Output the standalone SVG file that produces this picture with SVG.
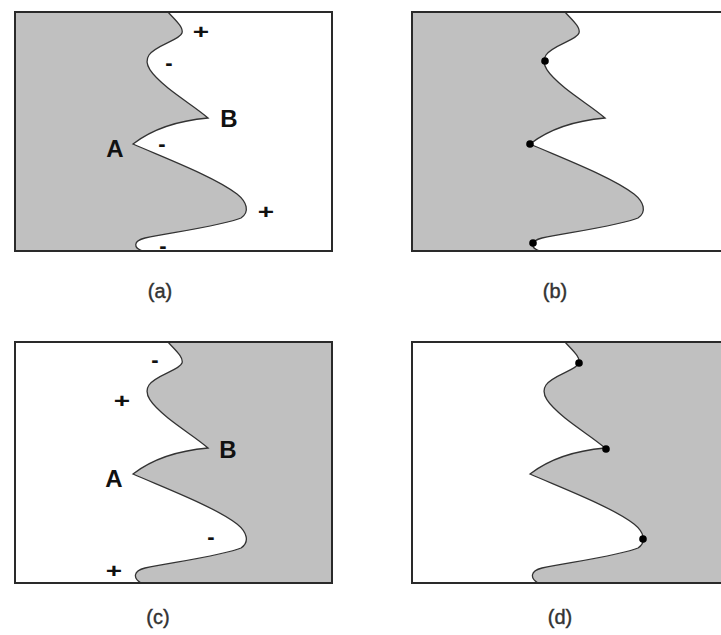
<svg xmlns="http://www.w3.org/2000/svg" width="721" height="635" viewBox="0 0 721 635">
<style>
.bg{fill:#ffffff}
.fill{fill:#c0c0c0;stroke:none}
.curve{fill:none;stroke:#333333;stroke-width:1.3}
.frame{fill:none;stroke:#2a2a2a;stroke-width:2}
.dot{fill:#000000}
.lbl{font-family:"Liberation Sans",Arial,sans-serif;font-weight:bold;font-size:24px;fill:#111111;text-anchor:middle}
.sgn{font-family:"Liberation Sans",Arial,sans-serif;font-size:20px;font-weight:bold;fill:#111111;text-anchor:middle}
.mns{font-family:"Liberation Sans",Arial,sans-serif;font-size:22px;font-weight:bold;fill:#111111;text-anchor:middle}
.cap{font-family:"Liberation Sans",Arial,sans-serif;font-size:20px;fill:#333333;stroke:#333333;stroke-width:0.4;text-anchor:middle}
</style>
<rect class="bg" x="0" y="0" width="721" height="635"/>
<g id="panel-a" transform="translate(15,12)">
<path class="fill" d="M153,0 C159,7 169,15 167,21 C165,28 141,33 134,43 C128,52 136,62 153,76 C168,88 183,97 193,106 C170,108 140,115 118,132 C150,146 200,165 222,182 C232,190 235,200 226,206 C210,213 160,220 130,226 C118,229 118,236 128,239 L0,239 L0,0 Z"/>
<path class="curve" d="M153,0 C159,7 169,15 167,21 C165,28 141,33 134,43 C128,52 136,62 153,76 C168,88 183,97 193,106 C170,108 140,115 118,132 C150,146 200,165 222,182 C232,190 235,200 226,206 C210,213 160,220 130,226 C118,229 118,236 128,239"/>
<rect class="frame" x="0" y="0" width="317" height="239"/>
</g>
<g id="labels-a">
<text class="sgn" transform="translate(201,39) scale(1.4,1)">+</text>
<text class="mns" x="169" y="70">-</text>
<text class="lbl" x="229" y="127">B</text>
<text class="lbl" x="115" y="157">A</text>
<text class="mns" x="162" y="151">-</text>
<text class="sgn" transform="translate(266,219) scale(1.4,1)">+</text>
<text class="mns" x="163" y="253">-</text>
<text class="cap" x="160" y="298">(a)</text>
</g>
<g id="panel-b" transform="translate(412,12)">
<path class="fill" d="M153,0 C159,7 169,15 167,21 C165,28 141,33 134,43 C128,52 136,62 153,76 C168,88 183,97 193,106 C170,108 140,115 118,132 C150,146 200,165 222,182 C232,190 235,200 226,206 C210,213 160,220 130,226 C118,229 118,236 128,239 L0,239 L0,0 Z"/>
<path class="curve" d="M153,0 C159,7 169,15 167,21 C165,28 141,33 134,43 C128,52 136,62 153,76 C168,88 183,97 193,106 C170,108 140,115 118,132 C150,146 200,165 222,182 C232,190 235,200 226,206 C210,213 160,220 130,226 C118,229 118,236 128,239"/>
<rect class="frame" x="0" y="0" width="330" height="239"/>
<circle class="dot" cx="133" cy="49" r="3.8"/>
<circle class="dot" cx="118" cy="132" r="3.8"/>
<circle class="dot" cx="121" cy="231" r="3.8"/>
</g>
<g id="labels-b">
<text class="cap" x="555" y="298">(b)</text>
</g>
<g id="panel-c" transform="translate(15,342)">
<path class="fill" d="M153,0 C159,7 169,15 167,21 C165,28 141,33 134,43 C128,52 136,62 153,76 C168,88 183,97 193,106 C170,108 140,115 118,132 C150,146 200,165 222,182 C232,190 235,200 226,206 C210,213 160,220 130,226 C118,229 118,236 126,241 L317,241 L317,0 Z"/>
<path class="curve" d="M153,0 C159,7 169,15 167,21 C165,28 141,33 134,43 C128,52 136,62 153,76 C168,88 183,97 193,106 C170,108 140,115 118,132 C150,146 200,165 222,182 C232,190 235,200 226,206 C210,213 160,220 130,226 C118,229 118,236 126,241"/>
<rect class="frame" x="0" y="0" width="317" height="241"/>
</g>
<g id="labels-c">
<text class="mns" x="155" y="367">-</text>
<text class="sgn" transform="translate(122,408) scale(1.4,1)">+</text>
<text class="lbl" x="228" y="458">B</text>
<text class="lbl" x="114" y="487">A</text>
<text class="mns" x="211" y="544">-</text>
<text class="sgn" transform="translate(114,578) scale(1.4,1)">+</text>
<text class="cap" x="158" y="624">(c)</text>
</g>
<g id="panel-d" transform="translate(412,342)">
<path class="fill" d="M153,0 C159,7 169,15 167,21 C165,28 141,33 134,43 C128,52 136,62 153,76 C168,88 183,97 193,106 C170,108 140,115 118,132 C150,146 200,165 222,182 C232,190 235,200 226,206 C210,213 160,220 130,226 C118,229 118,236 126,241 L330,241 L330,0 Z"/>
<path class="curve" d="M153,0 C159,7 169,15 167,21 C165,28 141,33 134,43 C128,52 136,62 153,76 C168,88 183,97 193,106 C170,108 140,115 118,132 C150,146 200,165 222,182 C232,190 235,200 226,206 C210,213 160,220 130,226 C118,229 118,236 126,241"/>
<rect class="frame" x="0" y="0" width="330" height="241"/>
<circle class="dot" cx="167" cy="21" r="3.8"/>
<circle class="dot" cx="194" cy="107" r="3.8"/>
<circle class="dot" cx="231" cy="197" r="3.8"/>
</g>
<g id="labels-d">
<text class="cap" x="560" y="624">(d)</text>
</g>
</svg>
